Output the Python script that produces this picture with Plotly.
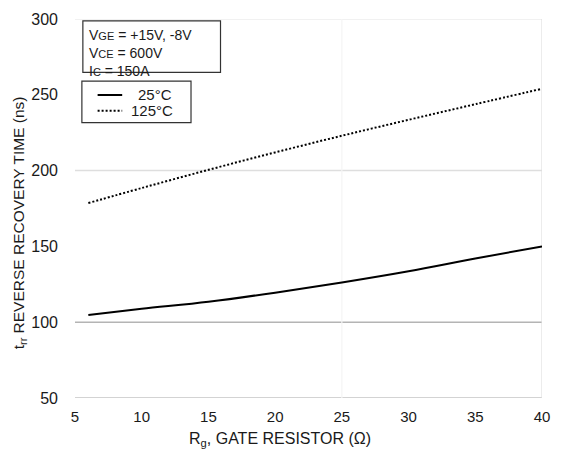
import plotly.graph_objects as go

# Data
rg = [6, 10, 15, 20, 25, 30, 35, 40]
trr_25c = [104.7, 108.8, 113.5, 119.5, 126.2, 133.6, 142.0, 150.0]
trr_125c = [178.6, 188.5, 200.5, 212.0, 223.0, 233.5, 243.8, 254.0]

x_ticks = [5, 10, 15, 20, 25, 30, 35, 40]
y_ticks = [50, 100, 150, 200, 250, 300]
series_names = ["25°C", "125°C"]

FONT = "Liberation Sans, Arial, sans-serif"
TXT = "#1a1a1a"

# plot area in page pixels
PX0, PX1, PY0, PY1 = 75, 550, 14, 398
def px(x):
    return (x - PX0) / (PX1 - PX0)
def py(y):
    return (PY1 - y) / (PY1 - PY0)

fig = go.Figure()
fig.add_trace(go.Scatter(x=rg, y=trr_25c, mode="lines", name=series_names[0],
                         line=dict(color="black", width=2, shape="spline")))
fig.add_trace(go.Scatter(x=rg, y=trr_125c, mode="lines", name=series_names[1],
                         line=dict(color="black", width=2, dash="2px,2px", shape="spline")))

shapes = []
for yv, col in [(50, "#c4c4c4"), (100, "#b4b4b4"), (200, "#dedede"), (300, "#ececec")]:
    shapes.append(dict(type="line", xref="paper", yref="y", x0=0, x1=1, y0=yv, y1=yv,
                       line=dict(color=col, width=1.5), layer="below"))
for xv, col in [(25, "#f4f4f4"), (40, "#e0e0e0")]:
    shapes.append(dict(type="line", xref="x", yref="paper", x0=xv, x1=xv, y0=0, y1=1,
                       line=dict(color=col, width=1.2), layer="below"))
# condition box
shapes.append(dict(type="rect", xref="paper", yref="paper",
                   x0=px(83), x1=px(223), y0=py(68), y1=py(16),
                   line=dict(color="#333333", width=1.2), fillcolor="white"))
# legend box and samples
shapes.append(dict(type="rect", xref="paper", yref="paper",
                   x0=px(82), x1=px(193), y0=py(119), y1=py(77),
                   line=dict(color="#333333", width=1.2), fillcolor="white"))
shapes.append(dict(type="line", xref="paper", yref="paper",
                   x0=px(98), x1=px(123), y0=py(91), y1=py(91),
                   line=dict(color="black", width=2)))
shapes.append(dict(type="line", xref="paper", yref="paper",
                   x0=px(98), x1=px(123), y0=py(107), y1=py(107),
                   line=dict(color="black", width=2, dash="2px,2px")))

sm = "<span style='font-size:11px'>{}</span>"
cond_text = ("V" + sm.format("GE") + " = +15V, -8V<br>"
             "V" + sm.format("CE") + " = 600V<br>"
             "I" + sm.format("C") + " = 150A")

annotations = [
    dict(text=cond_text, xref="paper", yref="paper",
         x=px(87), y=py(20), xanchor="left", yanchor="top",
         align="left", showarrow=False, font=dict(family=FONT, size=14, color=TXT)),
    dict(text=series_names[0], xref="paper", yref="paper",
         x=px(137), y=py(91), xanchor="left", yanchor="middle",
         showarrow=False, font=dict(family=FONT, size=15, color=TXT)),
    dict(text=series_names[1], xref="paper", yref="paper",
         x=px(130), y=py(107), xanchor="left", yanchor="middle",
         showarrow=False, font=dict(family=FONT, size=15, color=TXT)),
    dict(text="R<sub>g</sub>, GATE RESISTOR (Ω)", xref="paper", yref="paper",
         x=px(284), y=py(440), xanchor="center", yanchor="middle",
         showarrow=False, font=dict(family=FONT, size=16, color=TXT)),
    dict(text="t<sub>rr</sub> REVERSE RECOVERY TIME (ns)", xref="paper", yref="paper",
         x=px(18), y=py(220), xanchor="center", yanchor="middle",
         textangle=-90, showarrow=False, font=dict(family=FONT, size=15.5, color=TXT)),
]

fig.update_layout(
    width=561, height=463, autosize=False,
    margin=dict(l=PX0, r=561 - PX1, t=PY0, b=463 - PY1),
    paper_bgcolor="white", plot_bgcolor="white",
    font=dict(family=FONT, size=15, color=TXT),
    showlegend=False,
    shapes=shapes,
    annotations=annotations,
    xaxis=dict(range=[5, 40], tickvals=x_ticks, ticktext=[str(v) for v in x_ticks],
               showgrid=False, zeroline=False, showline=False, ticks="",
               ticklabelstandoff=8, tickfont=dict(size=15)),
    yaxis=dict(range=[50, 300], tickvals=y_ticks, ticktext=[str(v) for v in y_ticks],
               showgrid=False, zeroline=False, showline=False, ticks="",
               ticklabelstandoff=16, tickfont=dict(size=16)),
)

fig.write_html(
    "out.html",
    config={"displayModeBar": False},
    post_script="document.body.style.margin='0px';",
)
